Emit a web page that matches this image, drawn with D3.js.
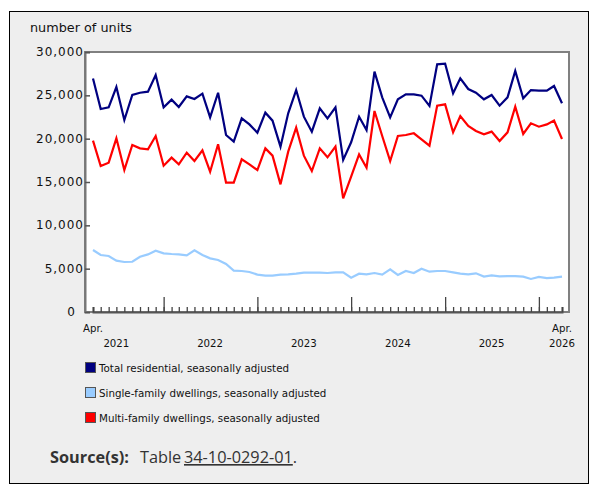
<!DOCTYPE html>
<html>
<head>
<meta charset="utf-8">
<script src="https://cdn.jsdelivr.net/npm/d3@7"></script>
<style>
  body { margin: 0; background: #fff; }
  svg { display: block; }
</style>
</head>
<body>
<div id="chart"></div>
<script>
// monthly, Apr. 2021 to Apr. 2026
const startMonth = new Date(2021, 3, 1);
const endMonth = new Date(2026, 3, 1);
const months = d3.timeMonth.range(startMonth, d3.timeMonth.offset(endMonth, 1));

const totalResidential = [26950, 23420, 23620, 25960, 22150, 25040, 25300, 25420, 27350, 23620, 24500, 23650,
  24880, 24580, 25190, 22450, 25300, 20420, 19650, 22350, 21650, 20690, 23000, 22080,
  19080, 22920, 25610, 22540, 20810, 23500, 22350, 23620, 17540, 19580, 22540, 21000,
  27730, 24770, 22460, 24540, 25120, 25120, 24960, 23770, 28580, 28650, 25230, 26960,
  25730, 25300, 24540, 25040, 23810, 24770, 27810, 24650, 25610, 25540, 25540, 26080, 24080];

const singleFamily = [7150, 6580, 6460, 5920, 5770, 5800, 6380, 6650, 7080, 6770, 6690, 6650,
  6540, 7110, 6580, 6190, 6000, 5540, 4770, 4730, 4620, 4310, 4190, 4190,
  4310, 4350, 4420, 4540, 4540, 4540, 4500, 4580, 4580, 3960, 4420, 4350,
  4500, 4310, 4920, 4270, 4730, 4500, 5000, 4650, 4730, 4730, 4580, 4420,
  4350, 4460, 4080, 4230, 4120, 4150, 4150, 4080, 3810, 4040, 3920, 3960, 4080];

const multiFamily = [19770, 16850, 17230, 20040, 16380, 19270, 18880, 18770, 20310, 16880, 17810, 17040,
  18380, 17420, 18650, 16190, 19350, 14920, 14920, 17620, 17040, 16380, 18880, 18040,
  14730, 18500, 21270, 18040, 16270, 18880, 17850, 19080, 13120, 15610, 18190, 16650,
  23190, 20310, 17420, 20310, 20420, 20620, 19920, 19190, 23810, 23960, 20730, 22610,
  21460, 20880, 20500, 20810, 19730, 20730, 23690, 20540, 21770, 21380, 21650, 22080, 19960];

const yTicks = [0, 5000, 10000, 15000, 20000, 25000, 30000];
const yearLabels = ["2021", "2022", "2023", "2024", "2025", "2026"];

const series = [
  {name: "Total residential, seasonally adjusted", values: totalResidential, color: "#000080"},
  {name: "Single-family dwellings, seasonally adjusted", values: singleFamily, color: "#99ccff"},
  {name: "Multi-family dwellings, seasonally adjusted", values: multiFamily, color: "#ff0000"}
];

const W = 603, H = 504;
let plot = {left: 85, right: 569, top: 52, bottom: 312};

let svg = d3.select("#chart").append("svg")
  .attr("width", W)
  .attr("height", H);

// grey panel
svg.append("rect")
  .attr("x", 9.5).attr("y", 11.5)
  .attr("width", 579).attr("height", 472)
  .attr("fill", "#eeeeee")
  .attr("stroke", "#000")
  .attr("stroke-width", 1);

svg.append("rect")
  .attr("x", plot.left).attr("y", plot.top)
  .attr("width", plot.right - plot.left).attr("height", plot.bottom - plot.top)
  .attr("fill", "#fff")
  .attr("stroke", "#808080")
  .attr("stroke-width", 2);

let x = d3.scaleTime()
  .domain([startMonth, endMonth])
  .range([93, 562]);

let y = d3.scaleLinear()
  .domain([0, 30000])
  .range([plot.bottom, plot.top]);

// y axis
let yAxis = svg.append("g")
  .attr("transform", "translate(" + plot.left + ",0)")
  .call(d3.axisRight(y).tickValues(yTicks).tickSize(5).tickFormat(""));
yAxis.select(".domain").attr("stroke", "#777").attr("stroke-width", 2);
yAxis.selectAll(".tick line").attr("stroke", "#555").attr("stroke-width", 1.5);

svg.append("g").selectAll("text")
  .data(yTicks)
  .enter()
  .append("text")
  .attr("x", d => d === 0 ? 76 : 84)
  .attr("y", d => y(d) + 4)
  .attr("text-anchor", "end")
  .style("font-family", "DejaVu Sans, Verdana, sans-serif")
  .style("font-size", "12px")
  .style("letter-spacing", "1px")
  .attr("fill", "#111")
  .text(d => d3.format(",")(d));

svg.append("text")
  .attr("x", 30).attr("y", 32)
  .style("font-family", "DejaVu Sans, Verdana, sans-serif")
  .style("font-size", "12.8px")
  .attr("fill", "#111")
  .text("number of units");

// x axis: monthly minor ticks, January major ticks
let xAxis = svg.append("g")
  .attr("transform", "translate(0," + plot.bottom + ")")
  .call(d3.axisBottom(x).tickValues(months).tickSize(-5).tickFormat(""));
xAxis.select(".domain").attr("stroke", "#555").attr("stroke-width", 2);
xAxis.selectAll(".tick line").attr("stroke", "#444").attr("stroke-width", 1.3);

let januaries = months.filter(d => d.getMonth() === 0);
svg.append("g")
  .attr("transform", "translate(0," + plot.bottom + ")")
  .call(d3.axisBottom(x).tickValues(januaries).tickSize(-15).tickFormat(""))
  .call(g => g.select(".domain").remove())
  .selectAll(".tick line").attr("stroke", "#444").attr("stroke-width", 1.3);

let labelFont = "DejaVu Sans, Verdana, sans-serif";
svg.append("g").selectAll("text")
  .data(yearLabels)
  .enter()
  .append("text")
  .attr("x", d => {
    let mid = new Date(+d, 6, 1);
    return mid > endMonth ? x(endMonth) : x(mid);
  })
  .attr("y", 347)
  .attr("text-anchor", "middle")
  .style("font-family", labelFont)
  .style("font-size", "10.2px")
  .attr("fill", "#111")
  .text(d => d);

svg.append("g").selectAll("text")
  .data([startMonth, endMonth])
  .enter()
  .append("text")
  .attr("x", d => x(d))
  .attr("y", 332)
  .attr("text-anchor", "middle")
  .style("font-family", labelFont)
  .style("font-size", "10.2px")
  .attr("fill", "#111")
  .text("Apr.");

// lines
let line = d3.line()
  .x((d, i) => x(months[i]))
  .y(d => y(d));

svg.append("g").selectAll("path")
  .data(series)
  .enter()
  .append("path")
  .attr("d", d => line(d.values))
  .attr("fill", "none")
  .attr("stroke", d => d.color)
  .attr("stroke-width", 2.2)
  .attr("stroke-linejoin", "miter");

// legend
let legend = svg.append("g").selectAll("g")
  .data(series)
  .enter()
  .append("g")
  .attr("transform", (d, i) => "translate(85," + (362 + i * 25) + ")");

legend.append("rect")
  .attr("x", 0.5).attr("y", 0.5)
  .attr("width", 10).attr("height", 10)
  .attr("fill", d => d.color)
  .attr("stroke", "#555");

legend.append("text")
  .attr("x", 14).attr("y", 9.5)
  .style("font-family", labelFont)
  .style("font-size", "10.3px")
  .attr("fill", "#111")
  .text(d => d.name);

// source
let source = svg.append("text")
  .attr("x", 50).attr("y", 463)
  .style("font-family", "Open Sans, Noto Sans, sans-serif")
  .style("font-size", "16.3px")
  .attr("fill", "#333");
source.append("tspan").style("font-weight", "bold").text("Source(s):");
source.append("tspan").attr("x", 140).text("Table ");
source.append("tspan").attr("x", 184).style("text-decoration", "underline").text("34-10-0292-01");
source.append("tspan").text(".");
</script>
</body>
</html>
